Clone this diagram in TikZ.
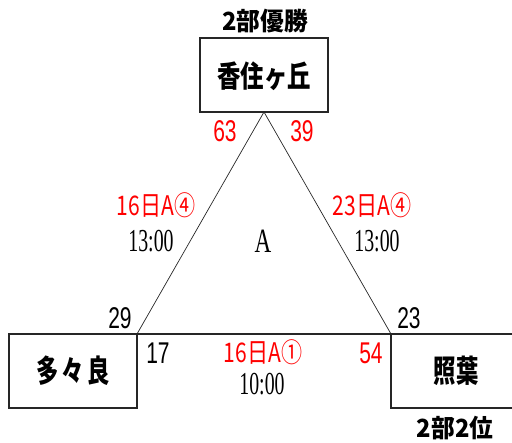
\documentclass[tikz,border=0pt]{standalone}
\usepackage{fontspec}
\newfontfamily\numfont[FakeStretch=0.7]{Liberation Sans}
\newfontfamily\serfont[FakeStretch=0.62]{Liberation Serif}
\newfontfamily\serAfont[FakeStretch=0.68]{Liberation Serif}
\newfontfamily\redfont[FakeStretch=0.78]{Noto Sans CJK JP}
\newfontfamily\cjkA[FakeStretch=0.78]{Noto Sans CJK JP}
\newfontfamily\cjkB[FakeStretch=0.72]{Noto Sans CJK JP}
\newfontfamily\cjkC[FakeStretch=0.95]{Noto Sans CJK JP}
\definecolor{myred}{RGB}{255,0,0}
\begin{document}
\begin{tikzpicture}[x=1pt,y=-1pt,
  team/.style={draw=black!85,line width=1.2pt,inner sep=0pt},
  edge/.style={draw=black!85,line width=0.7pt},
  score/.style={inner sep=0pt,font=\numfont\fontsize{30}{30}\selectfont},
  rscore/.style={score,text=myred},
  dlabel/.style={inner sep=0pt,text=myred,font=\redfont\fontsize{27}{27}\selectfont},
  tlabel/.style={inner sep=0pt,font=\serfont\fontsize{32}{32}\selectfont},
  rank/.style={inner sep=0pt,font=\cjkC\bfseries\fontsize{25}{25}\selectfont}]
\useasboundingbox (0,0) rectangle (512,443);
% boxes
\draw[team] (200,38) rectangle (328,112);
\draw[team] (9,334) rectangle (137,408);
\draw[team] (530,334) -- (391,334) -- (391,408) -- (530,408);
\node[inner sep=0pt,font=\cjkA\bfseries\fontsize{30}{30}\selectfont] (top) at (264,76) {香住ヶ丘};
\node[inner sep=0pt,font=\cjkB\bfseries\fontsize{31}{31}\selectfont] (left) at (73,371) {多\kern3pt 々\kern3pt 良};
\node[inner sep=0pt,font=\cjkB\bfseries\fontsize{31}{31}\selectfont] (right) at (456,371) {照葉};
% connector points
\coordinate (apex) at (264,112);
\coordinate (lc) at (137,334);
\coordinate (rc) at (391,334);
\draw[edge] (apex) -- (lc);
\draw[edge] (apex) -- (rc);
\draw[team] (lc) -- (rc);
% labels
\node[rank] (r1) at (265,21) {2部優勝};
\node[rank] (r2) at (455,428) {2部2位};
\node[rscore] (s63) at (225,131) {63};
\node[rscore] (s39) at (302,131) {39};
\node[score] (s29) at (120,318) {29};
\node[score] (s23) at (409,318) {23};
\node[score] (s17) at (158,353) {17};
\node[rscore] (s54) at (371,353) {54};
\node[dlabel] (d1) at (156,205) {16日A④};
\node[dlabel] (d2) at (372,205) {23日A④};
\node[dlabel] (d3) at (263,352) {16日A①};
\node[tlabel] (t1) at (151,241) {13:00};
\node[tlabel] (t2) at (377,241) {13:00};
\node[tlabel] (t3) at (262,384) {10:00};
\node[inner sep=0pt,font=\serAfont\fontsize{34}{34}\selectfont] (grp) at (263,241) {A};
\end{tikzpicture}
\end{document}
